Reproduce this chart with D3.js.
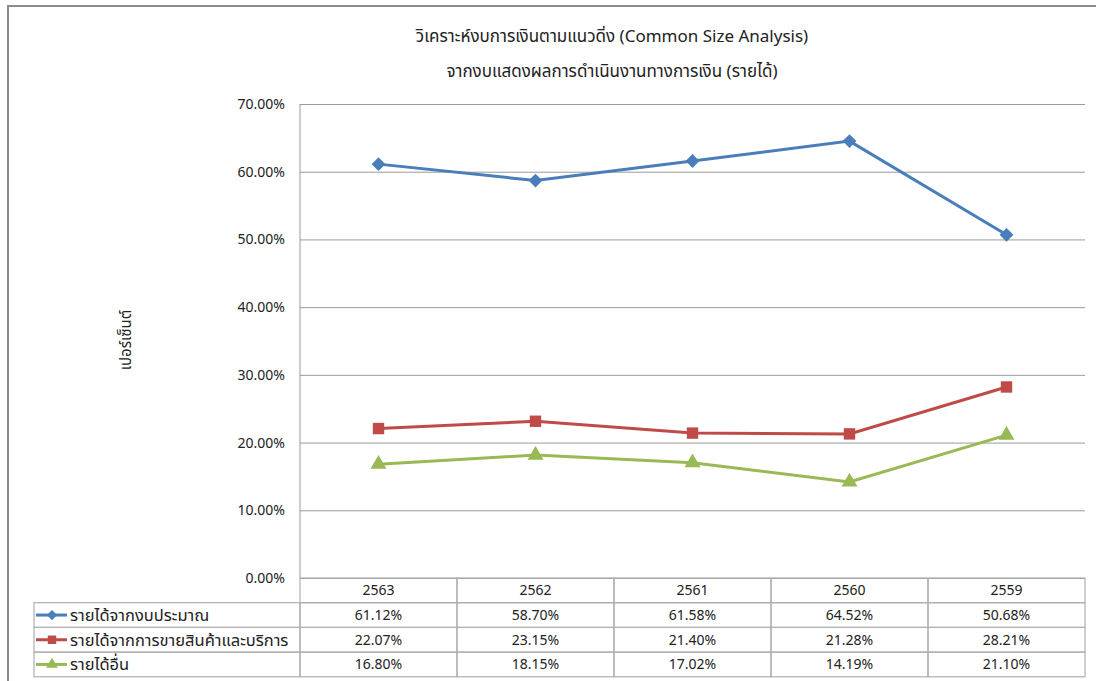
<html>
<head>
<meta charset="utf-8">
<script src="https://d3js.org/d3.v7.min.js"></script>
<style>
  body { margin: 0; background: #fff; }
  svg text { font-family: Tahoma, "Noto Sans Thai", "Noto Sans", "DejaVu Sans", sans-serif; fill: #222; }
  .grid line { stroke: #9a9a9a; stroke-width: 1; }
  .grid path { display: none; }
  .grid text { font-size: 14px; }
  .cell { fill: none; stroke: #b0b0b0; stroke-width: 1.2; }
</style>
</head>
<body>
<svg width="1096" height="681"></svg>
<script>
const years = ['2563', '2562', '2561', '2560', '2559'];
const budgetIncome = [61.12, 58.70, 61.58, 64.52, 50.68];
const salesIncome = [22.07, 23.15, 21.40, 21.28, 28.21];
const otherIncome = [16.80, 18.15, 17.02, 14.19, 21.10];
const yTicks = [0, 10, 20, 30, 40, 50, 60, 70];

// diamond = square turned 45deg, like Excel's marker
const series = [
  { name: 'รายได้จากงบประมาณ', values: budgetIncome, color: '#4a7ebb', shape: d3.symbolSquare, size: 95, rot: 45 },
  { name: 'รายได้จากการขายสินค้าและบริการ', values: salesIncome, color: '#be4b48', shape: d3.symbolSquare, size: 130, rot: 0 },
  { name: 'รายได้อื่น', values: otherIncome, color: '#98b954', shape: d3.symbolTriangle, size: 110, rot: 0 }
];

const svg = d3.select('svg');
const plotLeft = 300, plotRight = 1085, plotTop = 104, plotBottom = 578;

// outer chart frame (runs past the window on right/bottom)
svg.append('path')
  .attr('d', 'M8,690 L8,6 L1100,6')
  .attr('fill', 'none')
  .attr('stroke', '#8a8a8a')
  .attr('stroke-width', 2);

svg.append('text').attr('x', 612).attr('y', 42).attr('text-anchor', 'middle')
  .style('font-size', '17px').text('วิเคราะห์งบการเงินตามแนวดิ่ง (Common Size Analysis)');
svg.append('text').attr('x', 612).attr('y', 77).attr('text-anchor', 'middle')
  .style('font-size', '17px').text('จากงบแสดงผลการดำเนินงานทางการเงิน (รายได้)');

const x = d3.scaleBand().domain(years).range([plotLeft, plotRight]);
const y = d3.scaleLinear().domain([0, 70]).range([plotBottom, plotTop]);

svg.append('g')
  .attr('class', 'grid')
  .attr('transform', `translate(${plotLeft},0)`)
  .call(d3.axisLeft(y).tickValues(yTicks).tickSize(-(plotRight - plotLeft)).tickPadding(15)
    .tickFormat(d => d.toFixed(2) + '%'));

svg.append('line')
  .attr('x1', plotLeft).attr('x2', plotLeft).attr('y1', plotTop).attr('y2', plotBottom)
  .attr('stroke', '#9a9a9a');

svg.append('text')
  .attr('transform', 'translate(131,340) rotate(-90)')
  .attr('text-anchor', 'middle')
  .style('font-size', '15px')
  .text('เปอร์เซ็นต์');

const line = d3.line()
  .x((d, i) => x(years[i]) + x.bandwidth() / 2)
  .y(d => y(d));

series.forEach(s => {
  svg.append('path')
    .attr('d', line(s.values))
    .attr('fill', 'none')
    .attr('stroke', s.color)
    .attr('stroke-width', 3);
  svg.append('g').selectAll('path')
    .data(s.values)
    .join('path')
    .attr('transform', (d, i) => `translate(${x(years[i]) + x.bandwidth() / 2},${y(d)}) rotate(${s.rot})`)
    .attr('d', d3.symbol(s.shape, s.size))
    .attr('fill', s.color);
});

// data table under the chart
const rowH = 24.7;
const legendLeft = 34;
const rows = d3.scaleBand().domain(d3.range(series.length + 1)).range([plotBottom, plotBottom + rowH * 4]);

const table = svg.append('g');

// header row cells
table.selectAll('rect.head')
  .data(years)
  .join('rect')
  .attr('class', 'cell')
  .attr('x', d => x(d)).attr('y', rows(0))
  .attr('width', x.bandwidth()).attr('height', rows.bandwidth());
table.selectAll('text.head')
  .data(years)
  .join('text')
  .attr('x', d => x(d) + x.bandwidth() / 2)
  .attr('y', rows(0) + rows.bandwidth() / 2 + 5)
  .attr('text-anchor', 'middle')
  .style('font-size', '14px')
  .text(d => d);

series.forEach((s, si) => {
  const ry = rows(si + 1);
  table.append('rect').attr('class', 'cell')
    .attr('x', legendLeft).attr('y', ry)
    .attr('width', plotLeft - legendLeft).attr('height', rows.bandwidth());
  table.append('line')
    .attr('x1', 36).attr('x2', 67)
    .attr('y1', ry + rows.bandwidth() / 2).attr('y2', ry + rows.bandwidth() / 2)
    .attr('stroke', s.color).attr('stroke-width', 3);
  table.append('path')
    .attr('transform', `translate(52,${ry + rows.bandwidth() / 2}) rotate(${s.rot})`)
    .attr('d', d3.symbol(s.shape, s.size * 0.55))
    .attr('fill', s.color);
  table.append('text')
    .attr('x', 70).attr('y', ry + rows.bandwidth() / 2 + 6)
    .style('font-size', '16.5px')
    .text(s.name);

  table.selectAll(null)
    .data(s.values)
    .join('rect')
    .attr('class', 'cell')
    .attr('x', (d, i) => x(years[i])).attr('y', ry)
    .attr('width', x.bandwidth()).attr('height', rows.bandwidth());
  table.selectAll(null)
    .data(s.values)
    .join('text')
    .attr('x', (d, i) => x(years[i]) + x.bandwidth() / 2)
    .attr('y', ry + rows.bandwidth() / 2 + 5)
    .attr('text-anchor', 'middle')
    .style('font-size', '14px')
    .text(d => d.toFixed(2) + '%');
});
</script>
</body>
</html>
